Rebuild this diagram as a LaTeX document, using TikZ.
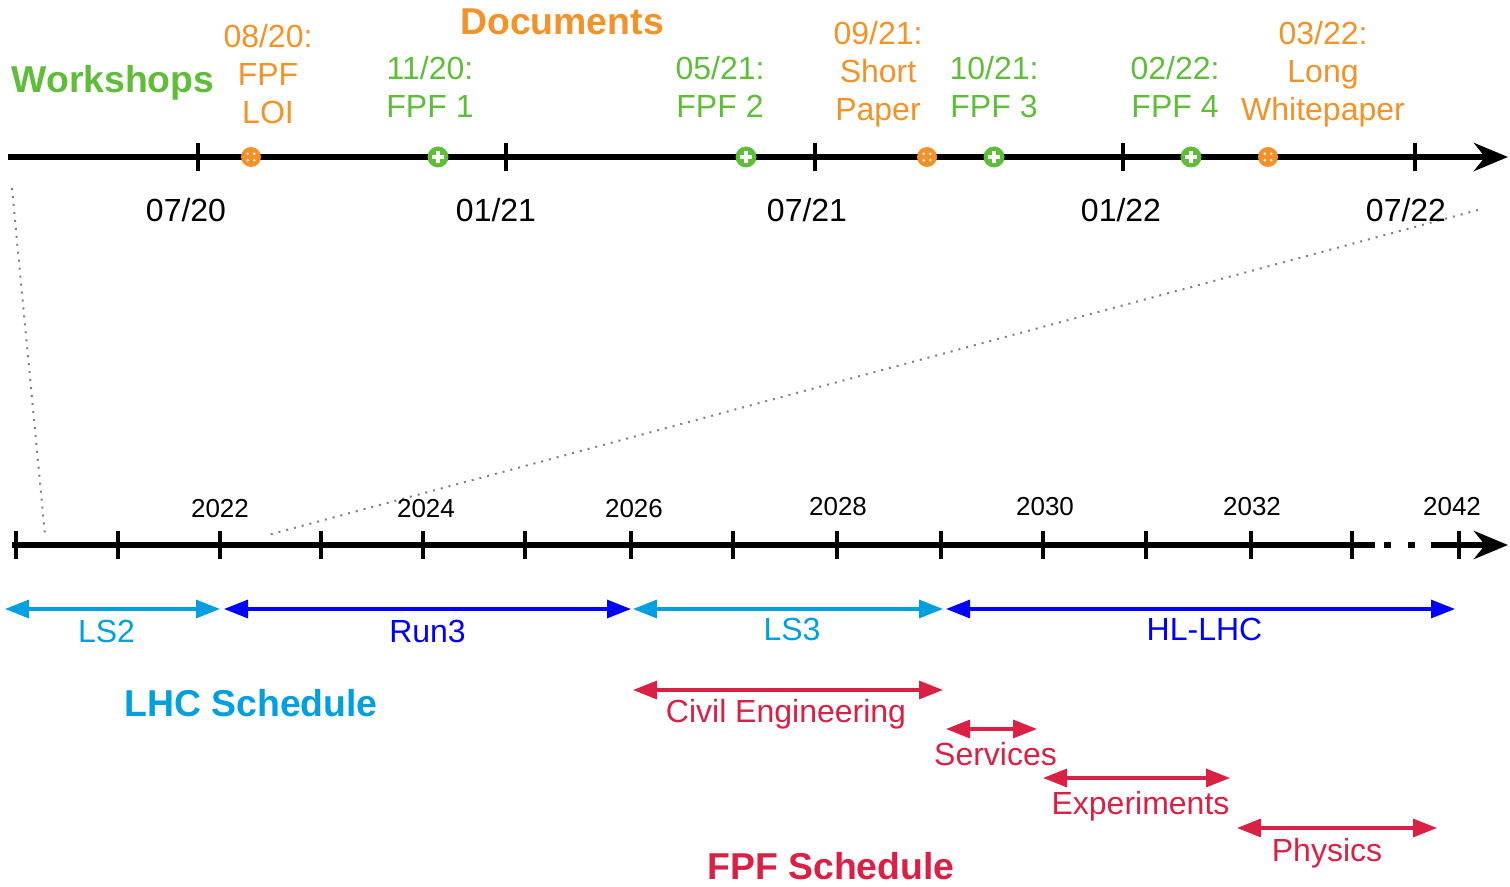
\documentclass[tikz,border=0pt]{standalone}
\usepackage{fontspec}
\setmainfont{Liberation Sans}
\usetikzlibrary{arrows.meta}
\definecolor{fpforange}{RGB}{242,146,40}
\definecolor{fpfgreen}{RGB}{96,189,58}
\definecolor{lhccyan}{RGB}{0,160,224}
\definecolor{lhcblue}{RGB}{0,0,255}
\definecolor{fpfred}{RGB}{218,32,68}
\tikzset{
  axisline/.style={line width=3.2pt},
  axistick/.style={line width=2pt},
  axisarrow/.style={axisline, -{Stealth[length=17pt,width=14pt]}},
  span/.style={line width=1.6pt, {Triangle[length=12pt,width=9pt]}-{Triangle[length=12pt,width=9pt]}},
  lbl/.style={inner sep=0pt, align=center, font=\fontsize{16}{19}\selectfont},
  yearlbl/.style={inner sep=0pt, font=\fontsize{13}{15}\selectfont},
  titlelbl/.style={inner sep=0pt, font=\fontsize{18.7}{21}\selectfont\bfseries},
  docmark/.style={circle, fill=fpforange, inner sep=0pt, minimum size=10pt,
    path picture={\foreach \a in {45,135,225,315}
      \fill[white] (path picture bounding box.center) ++(\a:2.3pt) circle (0.65pt);}},
  wsmark/.style={circle, fill=fpfgreen, inner sep=0pt, minimum size=10.5pt,
    path picture={\draw[white, line width=2.2pt]
      (path picture bounding box.center) +(-2.8pt,0) -- +(2.8pt,0)
      (path picture bounding box.center) +(0,-2.8pt) -- +(0,2.8pt);}},
  zoomline/.style={gray, line width=1pt, dash pattern=on 1pt off 3pt}
}
\begin{document}
\begin{tikzpicture}[x=0.5pt,y=-0.5pt]
  \useasboundingbox (0,0) rectangle (1510,887);
  % zoom lines
  \coordinate (zla) at (12,188);
  \coordinate (zlb) at (45,535);
  \coordinate (zra) at (1478,210);
  \coordinate (zrb) at (268,535);
  \draw[zoomline] (zla) -- (zlb);
  \draw[zoomline] (zra) -- (zrb);

  % upper time line
  \coordinate (tl) at (8,157);
  \coordinate (tr) at (1508,157);
  \draw[axisarrow] (tl) -- (tr);
  \foreach \x in {198,506,815,1123,1415}
    \draw[axistick] (\x,143) -- (\x,171);
  \node[lbl] (d0720) at (186,210) {07/20};
  \node[lbl] (d0121) at (496,210) {01/21};
  \node[lbl] (d0721) at (807,210) {07/21};
  \node[lbl] (d0122) at (1121,210) {01/22};
  \node[lbl] (d0722) at (1406,210) {07/22};

  \node[titlelbl, fpfgreen] (workshops) at (113,83) {Workshops};
  \node[titlelbl, fpforange] (documents) at (562,22) {Documents};

  \node[docmark] (loi) at (251,157) {};
  \node[docmark] (short) at (927,157) {};
  \node[docmark] (long) at (1268,157) {};
  \node[wsmark] (fpf1) at (438,157) {};
  \node[wsmark] (fpf2) at (746,157) {};
  \node[wsmark] (fpf3) at (994,157) {};
  \node[wsmark] (fpf4) at (1191,157) {};

  \node[lbl, fpforange] (loilbl) at (268,74) {08/20:\\FPF\\LOI};
  \node[lbl, fpforange] (shortlbl) at (878,74) {09/21:\\Short\\Paper};
  \node[lbl, fpforange] (longlbl) at (1323,74) {03/22:\\Long\\Whitepaper};
  \node[lbl, fpfgreen] (fpf1lbl) at (430,87) {11/20:\\FPF 1};
  \node[lbl, fpfgreen] (fpf2lbl) at (720,87) {05/21:\\FPF 2};
  \node[lbl, fpfgreen] (fpf3lbl) at (994,87) {10/21:\\FPF 3};
  \node[lbl, fpfgreen] (fpf4lbl) at (1175,87) {02/22:\\FPF 4};

  % lower time line
  \coordinate (bl) at (12,545);
  \coordinate (gapa) at (1375,545);
  \coordinate (dota) at (1384,545);
  \coordinate (dotb) at (1415,545);
  \coordinate (gapb) at (1431,545);
  \coordinate (br) at (1508,545);
  \draw[axisline] (bl) -- (gapa);
  \draw[axisline, dash pattern=on 3.5pt off 8.5pt] (dota) -- (dotb);
  \draw[axisarrow] (gapb) -- (br);
  \foreach \x in {16,118,220,321,423,525,631,733,837,941,1043,1146,1251,1352,1459}
    \draw[axistick] (\x,531) -- (\x,559);
  \node[yearlbl] (y2022) at (220,509) {2022};
  \node[yearlbl] (y2024) at (426,509) {2024};
  \node[yearlbl] (y2026) at (634,509) {2026};
  \node[yearlbl] (y2028) at (838,507) {2028};
  \node[yearlbl] (y2030) at (1045,507) {2030};
  \node[yearlbl] (y2032) at (1252,507) {2032};
  \node[yearlbl] (y2042) at (1452,507) {2042};

  % LHC schedule
  \coordinate (ls2a) at (5,609);
  \coordinate (ls2b) at (220,609);
  \coordinate (run3a) at (224,609);
  \coordinate (run3b) at (631,609);
  \coordinate (ls3a) at (633,609);
  \coordinate (ls3b) at (943,609);
  \coordinate (hla) at (946,609);
  \coordinate (hlb) at (1455,609);
  \draw[span, lhccyan] (ls2a) -- node[lbl, below=5pt, xshift=-3pt] {LS2} (ls2b);
  \draw[span, lhcblue] (run3a) -- node[lbl, below=5pt] {Run3} (run3b);
  \draw[span, lhccyan] (ls3a) -- node[lbl, below=4pt, xshift=2pt] {LS3} (ls3b);
  \draw[span, lhcblue] (hla) -- node[lbl, below=4pt, xshift=2pt] {HL-LHC} (hlb);
  \node[titlelbl, lhccyan] (lhcsched) at (251,703) {LHC Schedule};

  % FPF schedule
  \coordinate (civa) at (633,690);
  \coordinate (civb) at (943,690);
  \coordinate (sera) at (946,729);
  \coordinate (serb) at (1037,729);
  \coordinate (expa) at (1043,778);
  \coordinate (expb) at (1230,778);
  \coordinate (phya) at (1237,828);
  \coordinate (phyb) at (1437,828);
  \draw[span, fpfred] (civa) -- node[lbl, below=4pt, xshift=-1pt] {Civil Engineering} (civb);
  \draw[span, fpfred] (sera) -- node[lbl, below=6pt, xshift=2pt] {Services} (serb);
  \draw[span, fpfred] (expa) -- node[lbl, below=6pt, xshift=2pt] {Experiments} (expb);
  \draw[span, fpfred] (phya) -- node[lbl, below=4.5pt, xshift=-5pt] {Physics} (phyb);
  \node[titlelbl, fpfred] (fpfsched) at (831,866) {FPF Schedule};
\end{tikzpicture}
\end{document}
